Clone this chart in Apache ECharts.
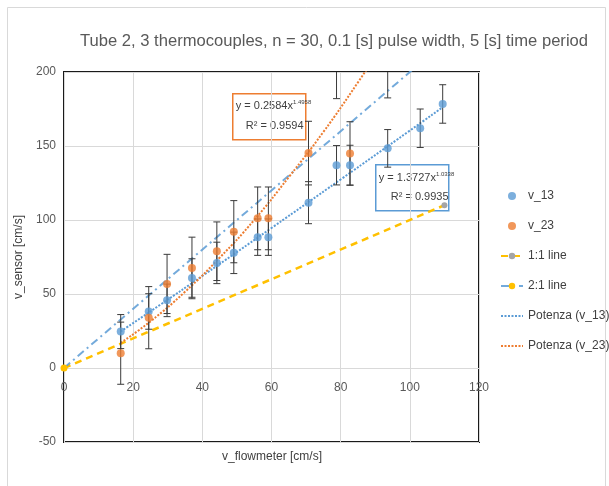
<!DOCTYPE html>
<html>
<head>
<meta charset="utf-8">
<script src="https://cdn.jsdelivr.net/npm/echarts@6/dist/echarts.min.js"></script>
<style>
html,body{margin:0;padding:0;background:#fff;}
#chart{width:609px;height:486px;}
</style>
</head>
<body>
<div id="chart"></div>
<script>
// ---- data ----
const flowX      = [16.4, 24.5, 29.8, 37.0, 44.2, 49.1, 56.0, 59.1, 70.7, 78.8, 82.7, 93.6, 103.0, 109.5];
const v13        = [24.6, 38.2, 45.7, 60.8, 71.0, 77.8, 88.4, 88.4, 111.7, 137.0, 137.0, 148.4, 162.0, 178.4];
const v13Err     = [11.5, 12.0, 11.0, 13.0, 14.0, 14.0, 12.3, 12.3, 14.2, 13.3, 13.5, 12.7, 13.0, 13.0];
const flowX23    = [16.4, 24.5, 29.8, 37.0, 44.2, 49.1, 56.0, 59.1, 70.7, 78.8, 82.7, 93.6];
const v23        = [10.0, 34.0, 56.8, 67.6, 78.9, 92.1, 101.1, 101.1, 145.2, 208.0, 145.0, 225.0];
const v23Err     = [21.0, 21.0, 20.0, 20.8, 19.8, 21.0, 21.2, 21.2, 21.5, 26.0, 21.4, 42.5];
const line11X    = [0, 110];
const line11Y    = [0, 110];
const line21X    = [0, 110];
const line21Y    = [0, 220];
const trend13X   = [16.4, 28, 40, 60, 80, 100, 109.5];
const trend13Y   = [24.7, 43.0, 62.2, 94.6, 127.4, 160.4, 176.2];
const trend23X   = [16.4, 25, 35, 45, 55, 65, 75, 85, 95];
const trend23Y   = [17.0, 31.5, 51.5, 74.5, 100.0, 129.0, 159.5, 193.0, 228.0];
const xTicks     = {min: 0, max: 120, step: 20};
const yTicks     = {min: -50, max: 200, step: 50};
const titleText  = 'Tube 2, 3 thermocouples, n = 30, 0.1 [s] pulse width, 5 [s] time period';
const eq23       = ['y = 0.2584x', '1.4958', 'R² = 0.9594'];
const eq13       = ['y = 1.3727x', '1.0338', 'R² = 0.9935'];

const BLUE = '#5B9BD5', ORANGE = '#ED7D31', YELLOW = '#FFC000', GREY = '#A5A5A5';
const FONT = '"Liberation Sans", Arial, sans-serif';

const zip = (xs, ys) => xs.map((x, i) => [x, ys[i]]);
const errData = (xs, ys, es) => xs.map((x, i) => [x, ys[i] - es[i], ys[i] + es[i]]);

function errRender(params, api) {
  const x = api.value(0), lo = api.value(1), hi = api.value(2);
  const pLo = api.coord([x, lo]), pHi = api.coord([x, hi]);
  const cap = 3.5;
  const st = {stroke: '#3a3a3a', lineWidth: 1};
  return {
    type: 'group',
    children: [
      {type: 'line', shape: {x1: pLo[0], y1: pLo[1], x2: pHi[0], y2: pHi[1]}, style: st},
      {type: 'line', shape: {x1: pLo[0] - cap, y1: pLo[1], x2: pLo[0] + cap, y2: pLo[1]}, style: st},
      {type: 'line', shape: {x1: pHi[0] - cap, y1: pHi[1], x2: pHi[0] + cap, y2: pHi[1]}, style: st}
    ]
  };
}

const richEq = {
  b: {fontFamily: FONT, fontSize: 11, fill: '#404040'},
  s: {fontFamily: FONT, fontSize: 6, fill: '#404040', verticalAlign: 'top', padding: [0, 0, 6, 0]}
};

// layout of the plot rectangle
const GRID = {left: 64, right: 130, top: 72, bottom: 44};
const gridH = 486 - GRID.top - GRID.bottom;
// x axis sits where y = 0 (as in the reference)
const xAxisOffset = -gridH * (0 - yTicks.min) / (yTicks.max - yTicks.min);

const chart = echarts.init(document.getElementById('chart'), null, {renderer: 'canvas'});
const option = {
  animation: false,
  backgroundColor: '#fff',
  title: {
    text: titleText, left: 329, top: 28, textAlign: 'center',
    textStyle: {fontFamily: FONT, fontSize: 16.6, fontWeight: 'normal', color: '#595959'}
  },
  grid: Object.assign({show: true, borderColor: '#1a1a1a', borderWidth: 2, backgroundColor: 'transparent'}, GRID),
  xAxis: {
    type: 'value', min: xTicks.min, max: xTicks.max, interval: xTicks.step,
    position: 'bottom', offset: xAxisOffset,
    axisLine: {show: true, onZero: false, lineStyle: {color: '#d9d9d9', width: 1}},
    axisTick: {show: false},
    axisLabel: {color: '#595959', fontFamily: FONT, fontSize: 12, margin: 14},
    splitLine: {show: true, lineStyle: {color: '#d9d9d9'}}
  },
  yAxis: {
    type: 'value', min: yTicks.min, max: yTicks.max, interval: yTicks.step,
    name: 'v_sensor [cm/s]', nameLocation: 'middle', nameGap: 34, nameRotate: 90,
    nameTextStyle: {color: '#404040', fontFamily: FONT, fontSize: 12},
    axisLine: {show: false, onZero: false}, axisTick: {show: false},
    axisLabel: {color: '#595959', fontFamily: FONT, fontSize: 12, margin: 8},
    splitLine: {show: true, lineStyle: {color: '#d9d9d9'}}
  },
  legend: {
    orient: 'vertical', left: 495, top: 185, itemGap: 18, itemWidth: 22, itemHeight: 8,
    textStyle: {fontFamily: FONT, fontSize: 12, color: '#404040'},
    data: [
      {name: 'v_13', icon: 'circle', itemStyle: {color: BLUE}},
      {name: 'v_23', icon: 'circle', itemStyle: {color: ORANGE}},
      {name: '1:1 line'},
      {name: '2:1 line'},
      {name: 'Potenza (v_13)', itemStyle: {opacity: 0}},
      {name: 'Potenza (v_23)', itemStyle: {opacity: 0}}
    ]
  },
  series: [
    {name: '1:1 line', type: 'line', data: zip(line11X, line11Y), symbol: 'circle', symbolSize: 6,
     itemStyle: {color: GREY}, lineStyle: {color: YELLOW, width: 2.5, type: [7, 5]}, z: 2},
    {name: '2:1 line', type: 'line', data: zip(line21X, line21Y), symbol: 'circle', symbolSize: 7,
     itemStyle: {color: YELLOW}, lineStyle: {color: BLUE, width: 2, opacity: 0.85, type: [8, 4, 2, 4]}, z: 3},
    {name: 'Potenza (v_13)', type: 'line', data: zip(trend13X, trend13Y), smooth: true, symbol: 'none',
     lineStyle: {color: BLUE, width: 2, type: [2, 1.5]}, itemStyle: {color: BLUE}, z: 4},
    {name: 'Potenza (v_23)', type: 'line', data: zip(trend23X, trend23Y), smooth: true, symbol: 'none',
     lineStyle: {color: ORANGE, width: 2, type: [2, 1.5]}, itemStyle: {color: ORANGE}, z: 4},
    {name: 'err13', type: 'custom', renderItem: errRender, data: errData(flowX, v13, v13Err), z: 5, silent: true,
     encode: {x: 0, y: [1, 2]}},
    {name: 'err23', type: 'custom', renderItem: errRender, data: errData(flowX23, v23, v23Err), z: 5, silent: true,
     encode: {x: 0, y: [1, 2]}, clip: true},
    {name: 'v_13', type: 'scatter', data: zip(flowX, v13), symbolSize: 8, itemStyle: {color: BLUE}, z: 6},
    {name: 'v_23', type: 'scatter', data: zip(flowX23, v23), symbolSize: 8, itemStyle: {color: ORANGE}, z: 6}
  ],
  graphic: [
    {type: 'rect', shape: {x: 7.5, y: 7.5, width: 598, height: 500}, style: {fill: 'none', stroke: '#d9d9d9', lineWidth: 1}, silent: true, z: -1},
    {type: 'text', left: 222, top: 451,
     style: {text: 'v_flowmeter [cm/s]', fontFamily: FONT, fontSize: 12, fill: '#404040'}},
    {type: 'group', left: 232, top: 93, z: 10, children: [
      {type: 'rect', shape: {x: 0, y: 0, width: 73, height: 46}, style: {fill: '#fff', stroke: ORANGE, lineWidth: 1.5}},
      {type: 'text', x: 3, y: 6, style: {rich: richEq, text: '{b|' + eq23[0] + '}{s|' + eq23[1] + '}'}},
      {type: 'text', x: 13, y: 27, style: {text: eq23[2], fontFamily: FONT, fontSize: 11, fill: '#404040'}}
    ]},
    {type: 'group', left: 375, top: 164, z: 10, children: [
      {type: 'rect', shape: {x: 0, y: 0, width: 73, height: 46}, style: {fill: '#fff', stroke: BLUE, lineWidth: 1.5}},
      {type: 'text', x: 3, y: 7, style: {rich: richEq, text: '{b|' + eq13[0] + '}{s|' + eq13[1] + '}'}},
      {type: 'text', x: 15, y: 27, style: {text: eq13[2], fontFamily: FONT, fontSize: 11, fill: '#404040'}}
    ]}
  ]
};
chart.setOption(option);
</script>
</body>
</html>
